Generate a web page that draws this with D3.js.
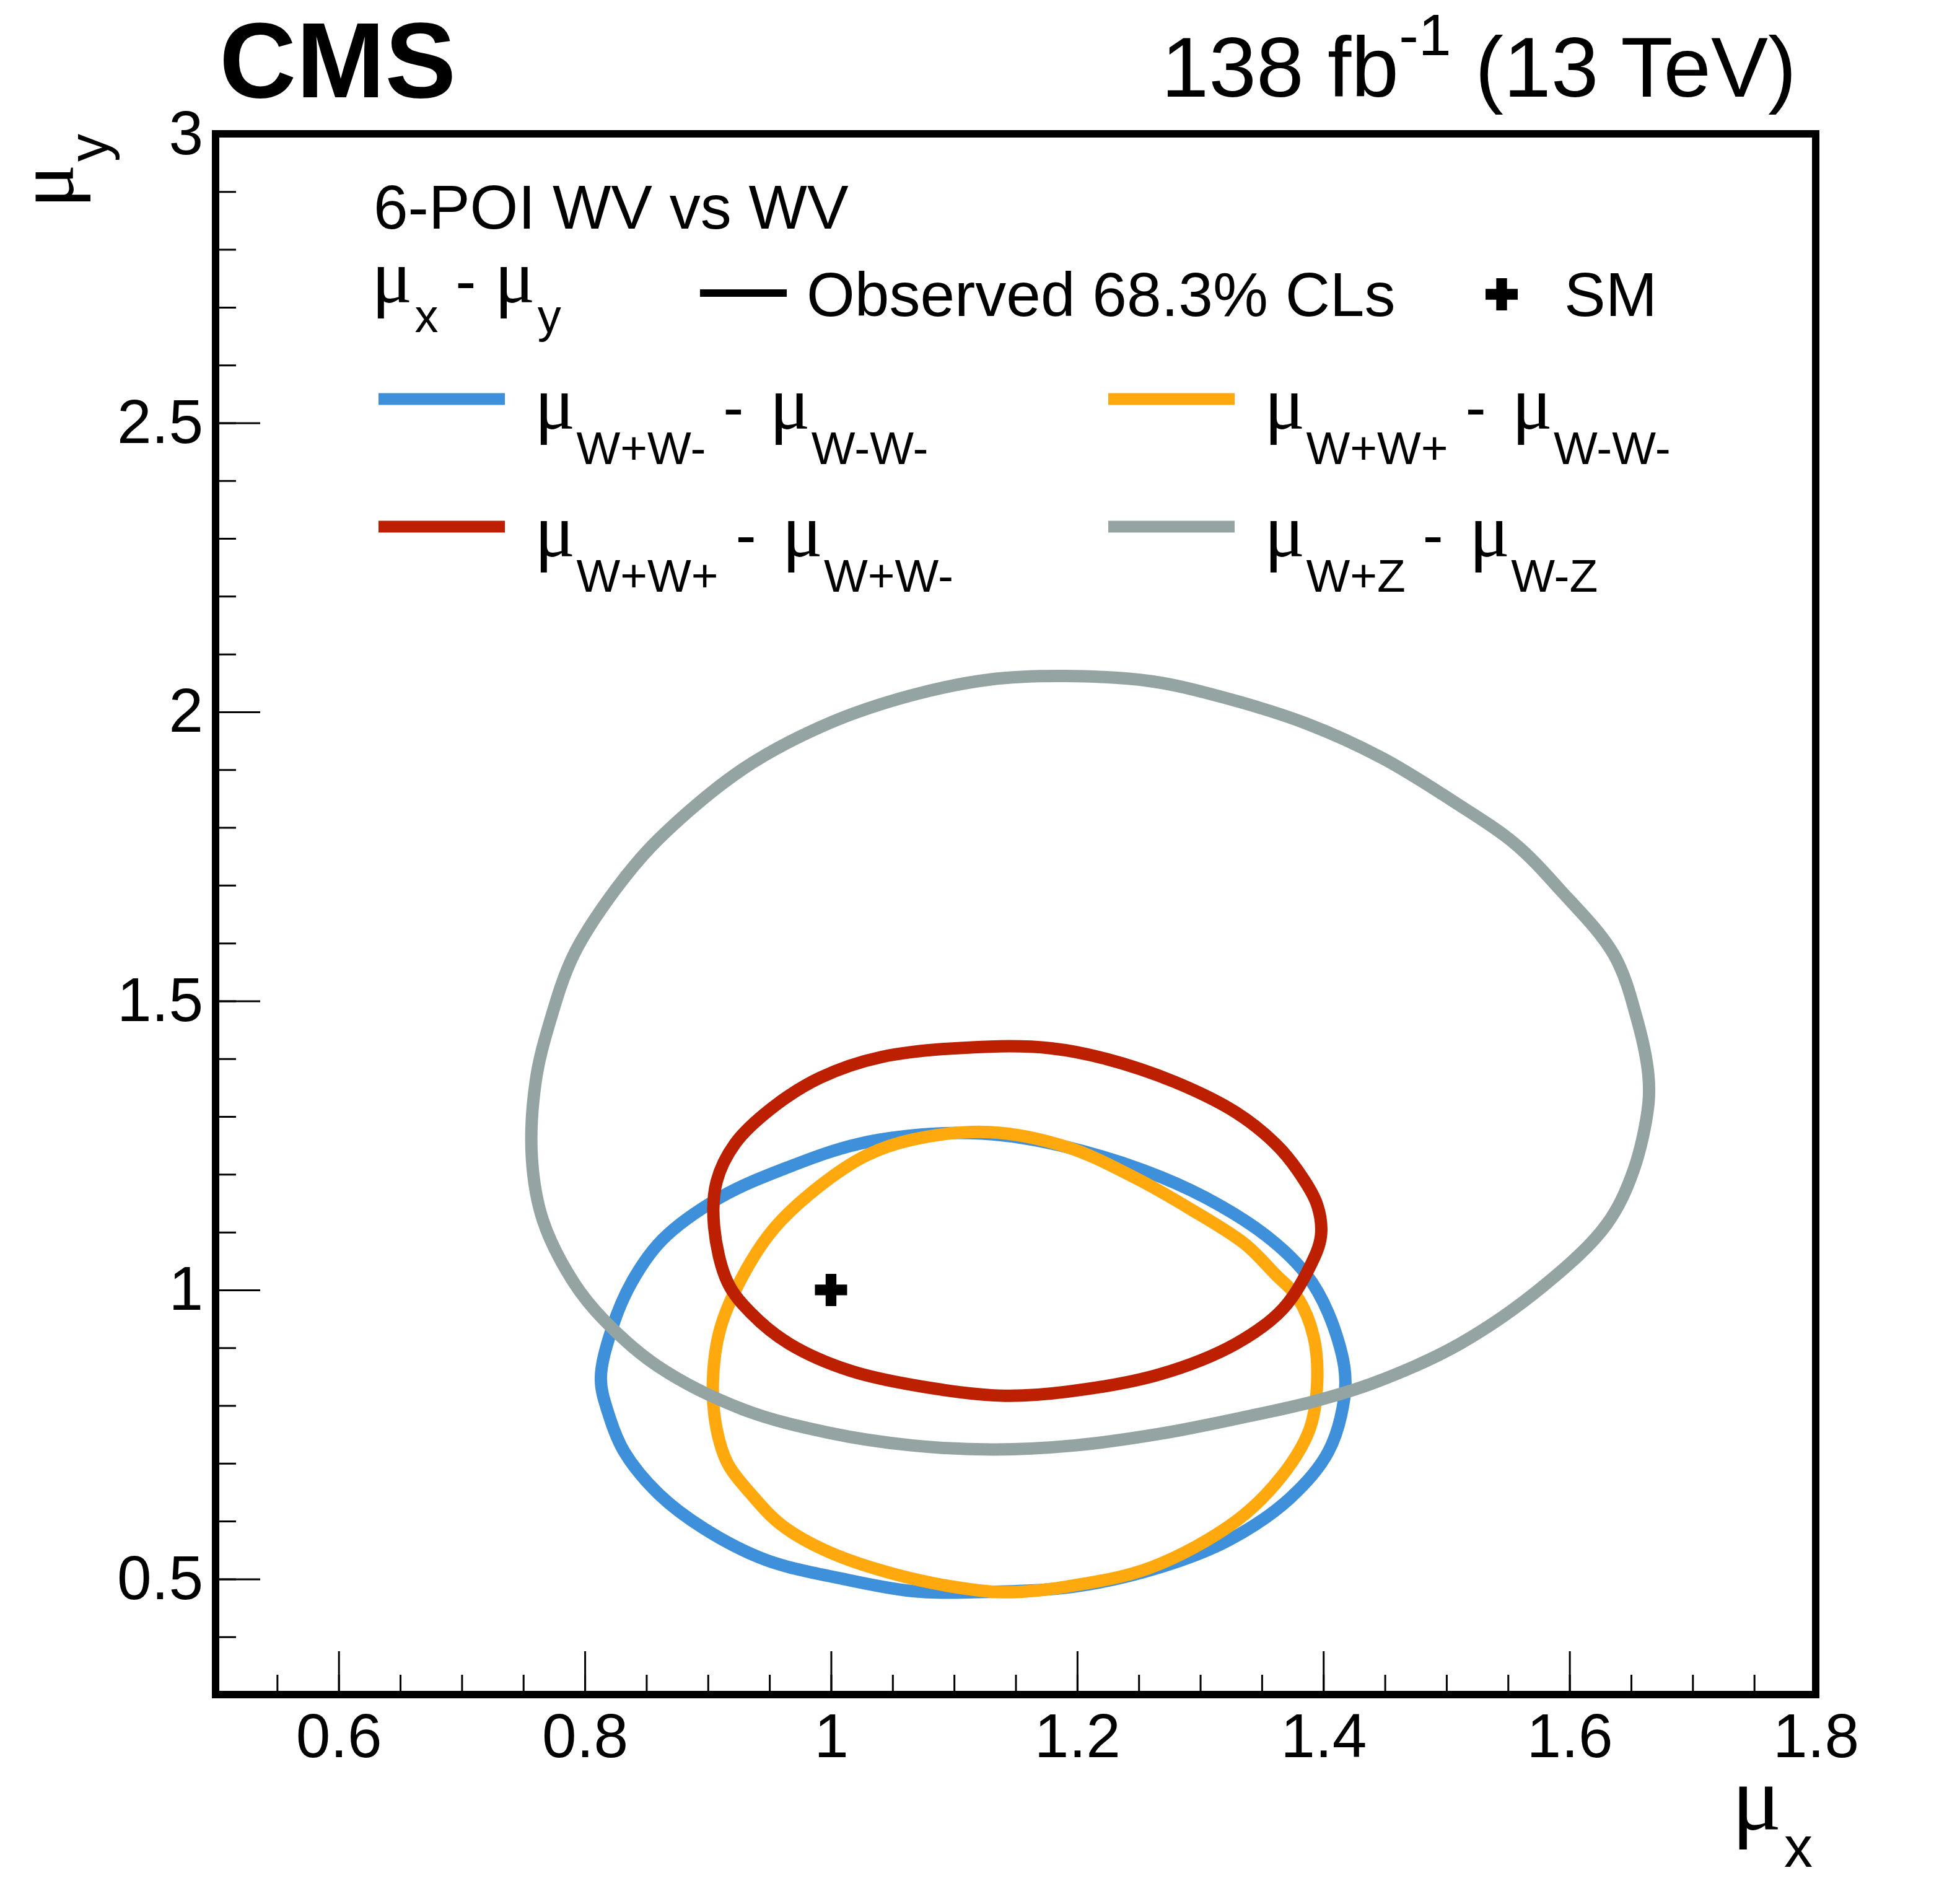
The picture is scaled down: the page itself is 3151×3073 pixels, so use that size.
<!DOCTYPE html>
<html>
<head>
<meta charset="utf-8">
<script src="https://cdnjs.cloudflare.com/ajax/libs/d3/7.8.5/d3.min.js"></script>
<style>
  body { margin: 0; background: #fff; }
  svg text { font-family: "Liberation Sans", Arial, sans-serif; white-space: pre; fill: #000; }
  svg .mu { font-family: "Liberation Serif", serif; }
</style>
</head>
<body>
<svg id="chart" width="3151" height="3073"></svg>
<script>
// ---- data (mu_x, mu_y) ----
const xTickLabels = [0.6, 0.8, 1.0, 1.2, 1.4, 1.6, 1.8];
const yTickLabels = [0.5, 1.0, 1.5, 2.0, 2.5, 3.0];
const smPoint = [1.0, 1.0];

// W+W- vs W-W-
const contourWpWmWmWm = [
  [1.091, 1.271], [1.023, 1.253], [0.966, 1.213], [0.910, 1.160], [0.863, 1.087],
  [0.838, 1.013], [0.822, 0.933], [0.813, 0.847], [0.819, 0.787], [0.832, 0.720],
  [0.860, 0.647], [0.897, 0.587], [0.947, 0.533], [1.010, 0.500], [1.066, 0.479],
  [1.116, 0.477], [1.198, 0.487], [1.267, 0.520], [1.323, 0.567], [1.373, 0.640],
  [1.404, 0.720], [1.417, 0.813], [1.417, 0.867], [1.404, 0.960], [1.386, 1.027],
  [1.354, 1.093], [1.304, 1.160], [1.254, 1.207], [1.192, 1.247], [1.141, 1.267]
];
// W+W+ vs W-W-
const contourWpWpWmWm = [
  [1.129, 1.273], [1.066, 1.260], [1.029, 1.233], [0.991, 1.180], [0.954, 1.107],
  [0.929, 1.027], [0.910, 0.933], [0.904, 0.840], [0.907, 0.760], [0.916, 0.700],
  [0.935, 0.647], [0.960, 0.593], [0.998, 0.547], [1.054, 0.507], [1.110, 0.483],
  [1.142, 0.477], [1.192, 0.487], [1.260, 0.520], [1.329, 0.600], [1.367, 0.680],
  [1.389, 0.760], [1.395, 0.840], [1.392, 0.920], [1.379, 0.987], [1.361, 1.027],
  [1.336, 1.080], [1.292, 1.140], [1.248, 1.193], [1.192, 1.247]
];
// W+W+ vs W+W-
const contourWpWpWpWm = [
  [1.129, 1.421], [1.041, 1.403], [0.991, 1.367], [0.951, 1.313], [0.922, 1.253],
  [0.907, 1.187], [0.905, 1.110], [0.916, 1.013], [0.935, 0.960], [0.966, 0.907],
  [1.016, 0.860], [1.085, 0.829], [1.141, 0.817], [1.192, 0.824], [1.267, 0.854],
  [1.329, 0.907], [1.367, 0.967], [1.389, 1.040], [1.398, 1.093], [1.395, 1.147],
  [1.379, 1.207], [1.361, 1.253], [1.329, 1.307], [1.279, 1.360], [1.223, 1.400],
  [1.179, 1.418]
];
// W+Z vs W-Z
const contourWpZWmZ = [
  [1.190, 2.062], [1.129, 2.056], [1.066, 2.029], [0.998, 1.980], [0.929, 1.902],
  [0.860, 1.780], [0.825, 1.693], [0.791, 1.580], [0.772, 1.467], [0.760, 1.360],
  [0.757, 1.227], [0.766, 1.120], [0.791, 1.013], [0.816, 0.947], [0.860, 0.867],
  [0.929, 0.793], [0.998, 0.753], [1.066, 0.731], [1.132, 0.724], [1.198, 0.731],
  [1.267, 0.751], [1.329, 0.777], [1.392, 0.807], [1.442, 0.840], [1.511, 0.907],
  [1.580, 1.009], [1.630, 1.113], [1.652, 1.207], [1.664, 1.320], [1.664, 1.373],
  [1.655, 1.467], [1.636, 1.580], [1.592, 1.693], [1.555, 1.773], [1.505, 1.846],
  [1.448, 1.920], [1.386, 1.980], [1.317, 2.026], [1.260, 2.053]
];

const seriesColors = ['#3f90da', '#ffa90e', '#bd1f01', '#94a4a2'];
const seriesSubs = [['W+W-', 'W-W-'], ['W+W+', 'W-W-'], ['W+W+', 'W+W-'], ['W+Z', 'W-Z']];
const seriesPoints = [contourWpWmWmWm, contourWpWpWmWm, contourWpWpWpWm, contourWpZWmZ];

// ---- drawing ----
const svg = d3.select('#chart');
svg.append('rect').attr('width', 3151).attr('height', 3073).attr('fill', '#fff');

const x = d3.scaleLinear().domain([0.5, 1.8]).range([348, 2931]);
const y = d3.scaleLinear().domain([0.3, 3.0]).range([2735, 216]);
const fmt = d => String(+d.toFixed(2));

// minor ticks
svg.append('g')
  .attr('transform', `translate(0,${y(0.3)})`)
  .call(d3.axisBottom(x).tickValues(x.ticks(26)).tickSizeInner(-32).tickSizeOuter(0).tickFormat(''))
  .call(g => g.select('.domain').remove());
svg.append('g')
  .attr('transform', `translate(${x(0.5)},0)`)
  .call(d3.axisLeft(y).tickValues(y.ticks(27)).tickSizeInner(-33).tickSizeOuter(0).tickFormat(''))
  .call(g => g.select('.domain').remove());

// major ticks + labels
svg.append('g')
  .attr('class', 'axis axis--x')
  .attr('transform', `translate(0,${y(0.3)})`)
  .call(d3.axisBottom(x).tickValues(xTickLabels).tickSizeInner(-70).tickSizeOuter(0).tickPadding(30).tickFormat(fmt))
  .call(g => g.select('.domain').remove());
svg.append('g')
  .attr('class', 'axis axis--y')
  .attr('transform', `translate(${x(0.5)},0)`)
  .call(d3.axisLeft(y).tickValues(yTickLabels).tickSizeInner(-72).tickSizeOuter(0).tickPadding(20).tickFormat(fmt))
  .call(g => g.select('.domain').remove());

svg.selectAll('.tick line').attr('stroke', '#000').attr('stroke-width', 3);
svg.selectAll('.tick text')
  .attr('font-size', 100)
  .attr('font-family', '"Liberation Sans", Arial, sans-serif');

// contours
const line = d3.line()
  .x(d => x(d[0]))
  .y(d => y(d[1]))
  .curve(d3.curveCatmullRomClosed.alpha(0.5));

svg.selectAll('.contour')
  .data(seriesPoints)
  .enter().append('path')
  .attr('class', 'contour')
  .attr('d', line)
  .attr('fill', 'none')
  .attr('stroke', (d, i) => seriesColors[i])
  .attr('stroke-width', 20)
  .attr('stroke-linejoin', 'round');

// SM point
const cross = d3.symbol(d3.symbolCross, 1500);
svg.append('path')
  .attr('d', cross)
  .attr('transform', `translate(${x(smPoint[0])},${y(smPoint[1])})`)
  .attr('fill', '#000');

// frame
svg.append('rect')
  .attr('x', x(0.5)).attr('y', y(3.0))
  .attr('width', x(1.8) - x(0.5)).attr('height', y(0.3) - y(3.0))
  .attr('fill', 'none').attr('stroke', '#000').attr('stroke-width', 12);

// ---- texts ----
svg.append('text')
  .attr('x', 354).attr('y', 157)
  .attr('font-size', 172).attr('font-weight', 'bold')
  .text('CMS');

const lumi = svg.append('text').attr('x', 2900).attr('y', 156).attr('text-anchor', 'end');
lumi.append('tspan').attr('font-size', 138).text('138 fb');
lumi.append('tspan').attr('font-size', 95).attr('dy', -67).text('-1');
lumi.append('tspan').attr('font-size', 138).attr('dy', 67).text(' (13 TeV)');

// mu label with subscripts: subs = ['x'] or ['x','y']
function muText(parent, x0, y0, subs, o) {
  const t = parent.append('text').attr('x', x0).attr('y', y0)
    .attr('text-anchor', o.anchor || 'start');
  subs.forEach((s, i) => {
    if (i > 0) {
      t.append('tspan').attr('font-size', o.size).attr('dy', -o.drop).text(' - ');
    }
    t.append('tspan').attr('class', 'mu').attr('font-size', o.muSize)
      .attr('dx', i > 0 ? (o.gap || 0) : 0).text('μ');
    t.append('tspan').attr('font-size', o.subSize).attr('dy', o.drop).attr('dx', o.subDx || 0).text(s);
  });
  return t;
}

// axis titles
muText(svg, 2926, 2953, ['x'], { anchor: 'end', size: 100, muSize: 150, subSize: 92, drop: 60, subDx: 4 });
muText(svg.append('g').attr('transform', 'translate(118,216) rotate(-90)'), 0, 0, ['y'],
  { anchor: 'end', size: 100, muSize: 132, subSize: 90, drop: 56, subDx: 4 });

// header
svg.append('text').attr('x', 603).attr('y', 369).attr('font-size', 100).text('6-POI WV vs WV');
muText(svg, 600, 488, ['x', 'y'], { size: 100, muSize: 122, subSize: 76, drop: 48, gap: 2, subDx: 4 });

svg.append('line')
  .attr('x1', 1130).attr('x2', 1270).attr('y1', 473).attr('y2', 473)
  .attr('stroke', '#000').attr('stroke-width', 12);
svg.append('text').attr('x', 1302).attr('y', 510).attr('font-size', 100).text('Observed 68.3% CLs');
svg.append('path').attr('d', cross).attr('transform', 'translate(2424,475)').attr('fill', '#000');
svg.append('text').attr('x', 2525).attr('y', 510).attr('font-size', 100).text('SM');

// legend entries (blue, orange / red, gray)
const legendPos = [[611, 644], [1789, 644], [611, 850], [1789, 850]];
const legendOrder = [0, 1, 2, 3];
legendOrder.forEach((si, k) => {
  const [lx, ly] = legendPos[k];
  svg.append('line')
    .attr('x1', lx).attr('x2', lx + 204).attr('y1', ly).attr('y2', ly)
    .attr('stroke', seriesColors[si]).attr('stroke-width', 19);
  muText(svg, lx + 252, ly + 48, seriesSubs[si],
    { size: 100, muSize: 122, subSize: 75, drop: 57, gap: 14, subDx: 2 });
});
</script>
</body>
</html>
